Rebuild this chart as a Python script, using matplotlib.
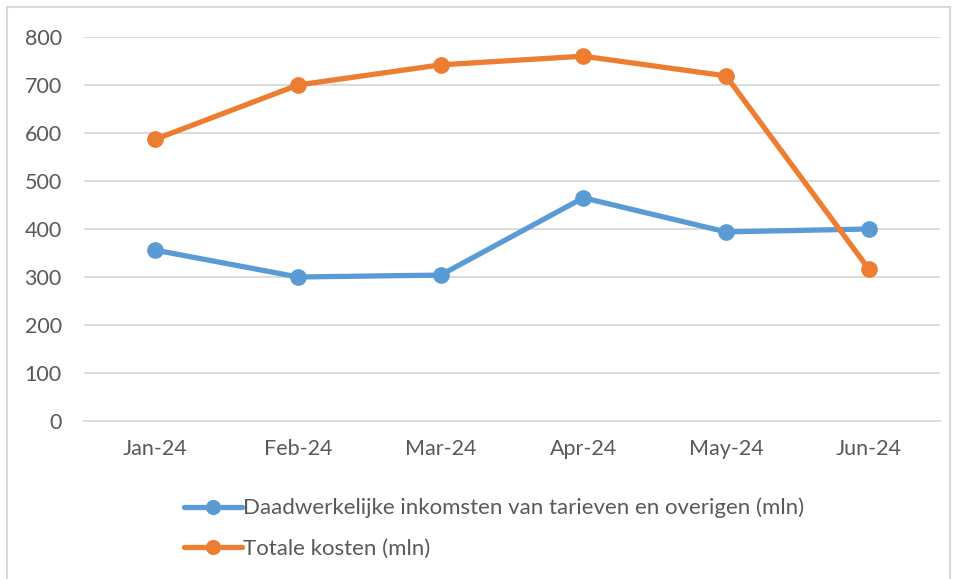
import matplotlib
matplotlib.use('Agg')
import matplotlib.pyplot as plt
import matplotlib.patches as mpatches

# data
months = ['Jan-24', 'Feb-24', 'Mar-24', 'Apr-24', 'May-24', 'Jun-24']
inkomsten = [356, 300, 304, 465, 394, 400]
kosten = [587, 700, 742, 760, 719, 317]
label_inkomsten = 'Daadwerkelijke inkomsten van tarieven en overigen (mln)'
label_kosten = 'Totale kosten (mln)'

plt.rcParams['font.family'] = ['Lato', 'DejaVu Sans']

W, H = 957, 579
fig = plt.figure(figsize=(W / 100, H / 100), dpi=100)
fig.patch.set_facecolor('white')

# chart border like excel (bottom edge falls off the image)
border = mpatches.Rectangle((7 / W, -5 / H), 943 / W, (H - 7 + 5) / H, transform=fig.transFigure,
                            fill=False, edgecolor='#D9D9D9', linewidth=1.5)
fig.patches.append(border)

ax = fig.add_axes([84 / W, 1 - 421 / H, (940 - 84) / W, (421 - 37) / H])
x = list(range(len(months)))

ax.plot(x, inkomsten, color='#5B9BD5', linewidth=3.8, marker='o', markersize=11,
        label=label_inkomsten, solid_capstyle='round')
ax.plot(x, kosten, color='#ED7D31', linewidth=3.8, marker='o', markersize=11,
        label=label_kosten, solid_capstyle='round')

ax.set_xlim(-0.5, len(months) - 0.5)
ax.set_ylim(0, 800)
ax.set_yticks(range(0, 801, 100))
ax.set_xticks(x)
ax.set_xticklabels(months)
ax.yaxis.grid(True, color='#D9D9D9', linewidth=1.3)
ax.set_axisbelow(True)
for s in ax.spines.values():
    s.set_visible(False)
ax.spines['bottom'].set_visible(True)
ax.spines['bottom'].set_color('#D9D9D9')
ax.spines['bottom'].set_linewidth(1.3)
ax.tick_params(axis='both', length=0, labelsize=15.5, colors='#595959')
ax.tick_params(axis='y', pad=16)
ax.tick_params(axis='x', pad=13)

leg = fig.legend(loc='upper left', bbox_to_anchor=(175 / W, 1 - 489 / H), frameon=False,
                 fontsize=16, handlelength=2.6, handletextpad=0.08, labelspacing=0.9,
                 borderaxespad=0, markerscale=0.9)
for t in leg.get_texts():
    t.set_color('#595959')

fig.savefig('out.png', dpi=100)
